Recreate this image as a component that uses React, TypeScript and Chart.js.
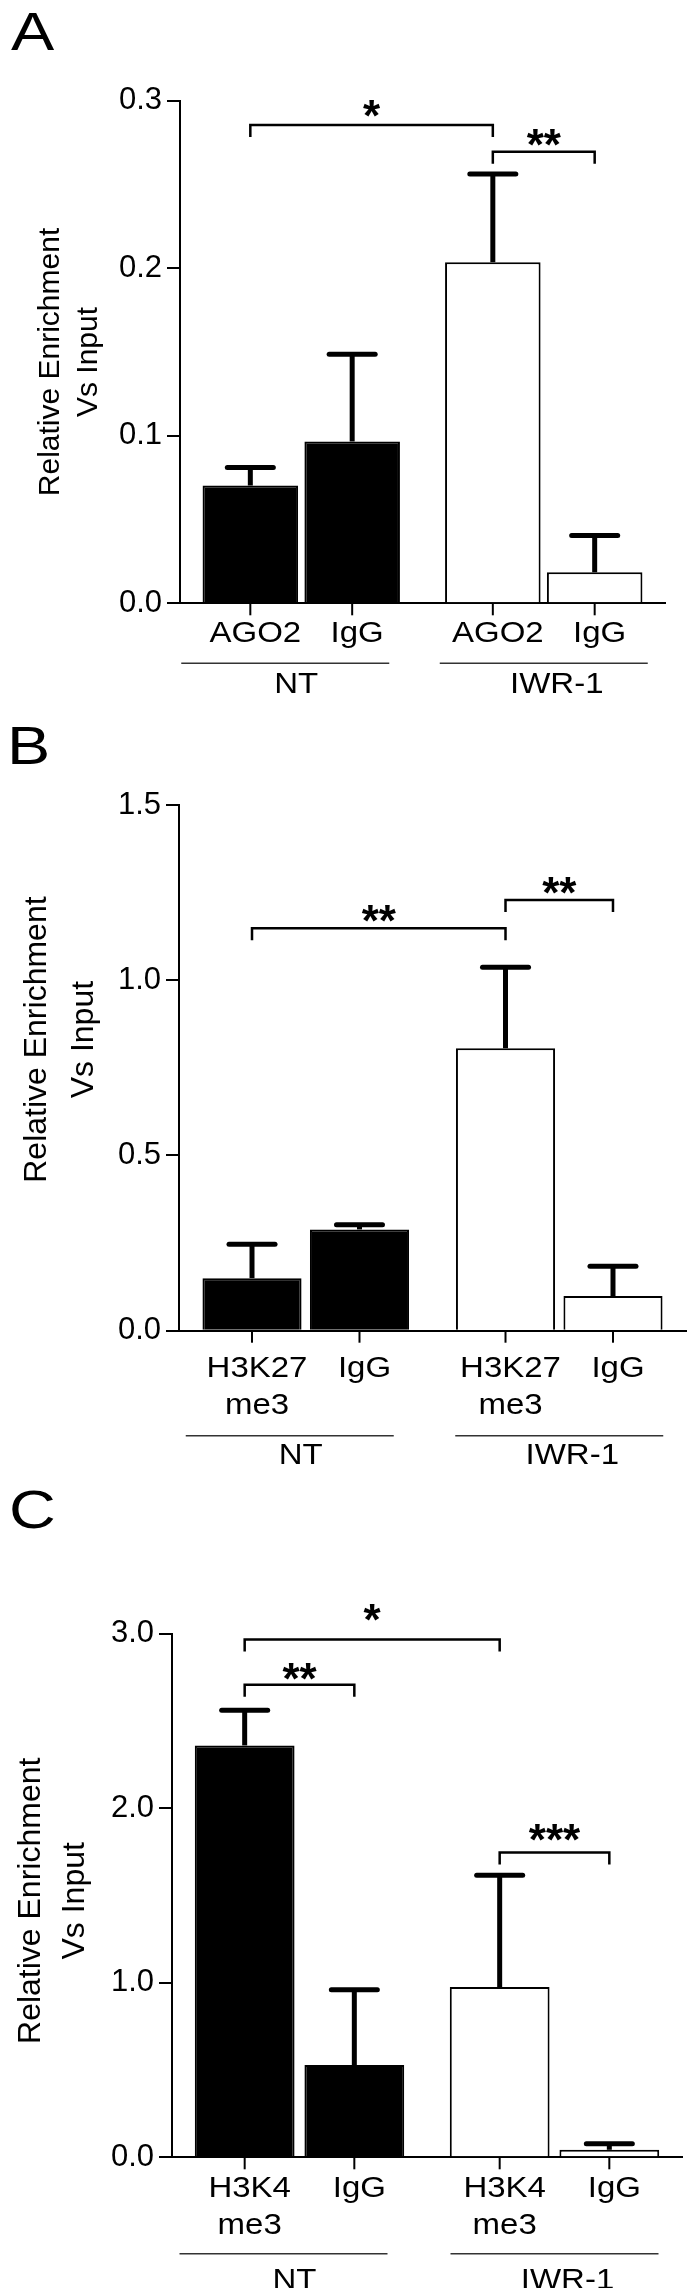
import React, { useEffect, useRef } from 'react';
import { Chart, registerables } from 'chart.js';

Chart.register(...registerables);

const FONT = '"Liberation Sans", Arial, Helvetica, sans-serif';

const GROUPS = ['NT', 'IWR-1'];
const Y_TITLE = ['Relative Enrichment', 'Vs Input'];

// Panel A – AGO2 ChIP
const A_LABELS = [['AGO2'], ['IgG']];
const A_TARGET = [0.0703, 0.2036];
const A_TARGET_ERR = [0.0107, 0.0527];
const A_IGG = [0.0966, 0.0185];
const A_IGG_ERR = [0.0521, 0.022];
const A_TICKS = [0, 0.1, 0.2, 0.3];
const A_BRACKETS = [
  { from: 0, to: 2, y: 0.2855, text: '*', lift: 16 },
  { from: 2, to: 3, y: 0.2696, text: '**', lift: 14 },
];

// Panel B – H3K27me3 ChIP
const B_LABELS = [['H3K27', 'me3'], ['IgG']];
const B_TARGET = [0.15, 0.806];
const B_TARGET_ERR = [0.097, 0.231];
const B_IGG = [0.289, 0.099];
const B_IGG_ERR = [0.013, 0.085];
const B_TICKS = [0, 0.5, 1.0, 1.5];
const B_BRACKETS = [
  { from: 0, to: 2, y: 1.148, text: '**', lift: 15 },
  { from: 2, to: 3, y: 1.229, text: '**', lift: 14 },
];

// Panel C – H3K4me3 ChIP
const C_LABELS = [['H3K4', 'me3'], ['IgG']];
const C_TARGET = [2.359, 0.975];
const C_TARGET_ERR = [0.202, 0.64];
const C_IGG = [0.528, 0.043];
const C_IGG_ERR = [0.432, 0.035];
const C_TICKS = [0, 1, 2, 3];
const C_BRACKETS = [
  { from: 0, to: 2, y: 2.965, text: '*', lift: 27 },
  { from: 0, to: 1, y: 2.706, text: '**', lift: 13 },
  { from: 2, to: 3, y: 1.745, text: '***', lift: 20 },
];

type Bracket = { from: number; to: number; y: number; text: string; lift: number };
type PanelCfg = {
  letter: string;
  labels: string[][];
  target: number[];
  targetErr: number[];
  igg: number[];
  iggErr: number[];
  ticks: number[];
  brackets: Bracket[];
  top: number;
  height: number;
  area: { left: number; right: number; top: number; bottom: number };
  catPct: number;
  barPct: number;
  titleX: number[];
  titleY: number;
  titleSize: number;
  labelY: number;
  lineY: number;
  groupY: number;
  letterPos: number[];
};

const PANELS: PanelCfg[] = [
  {
    letter: 'A', labels: A_LABELS, target: A_TARGET, targetErr: A_TARGET_ERR, igg: A_IGG, iggErr: A_IGG_ERR,
    ticks: A_TICKS, brackets: A_BRACKETS,
    top: 0, height: 740, area: { left: 180, right: 665, top: 100.7, bottom: 603.3 },
    catPct: 0.84, barPct: 0.938, titleX: [59, 97], titleY: 362, titleSize: 30,
    labelY: 30, lineY: 60, groupY: 81, letterPos: [11, 4],
  },
  {
    letter: 'B', labels: B_LABELS, target: B_TARGET, targetErr: B_TARGET_ERR, igg: B_IGG, iggErr: B_IGG_ERR,
    ticks: B_TICKS, brackets: B_BRACKETS,
    top: 740, height: 740, area: { left: 179, right: 686, top: 65, bottom: 590.7 },
    catPct: 0.848, barPct: 0.922, titleX: [46, 93], titleY: 299.6, titleSize: 32,
    labelY: 38, lineY: 105, groupY: 125, letterPos: [7, 718],
  },
  {
    letter: 'C', labels: C_LABELS, target: C_TARGET, targetErr: C_TARGET_ERR, igg: C_IGG, iggErr: C_IGG_ERR,
    ticks: C_TICKS, brackets: C_BRACKETS,
    top: 1480, height: 808, area: { left: 172, right: 682, top: 153.5, bottom: 677.3 },
    catPct: 0.86, barPct: 0.91, titleX: [40, 84], titleY: 420.8, titleSize: 32,
    labelY: 31, lineY: 96.5, groupY: 123, letterPos: [9, 1482],
  },
];

const W = 689;
const TEXT_STRETCH = 1.1;

function stretchedText(ctx: CanvasRenderingContext2D, t: string, x: number, y: number) {
  ctx.save();
  ctx.translate(x, y);
  ctx.scale(TEXT_STRETCH, 1);
  ctx.fillText(t, 0, 0);
  ctx.restore();
}

function makePlugin(cfg: PanelCfg) {
  return {
    id: 'annot' + cfg.letter,
    afterDatasetsDraw(chart: any) {
      const ctx: CanvasRenderingContext2D = chart.ctx;
      const ys = chart.scales.y;
      const bottom = chart.chartArea.bottom;
      const barX = (k: number) => chart.getDatasetMeta(k % 2).data[Math.floor(k / 2)].x;
      ctx.save();
      ctx.strokeStyle = '#000';
      ctx.fillStyle = '#000';

      // error bars (upper only)
      const series: number[][][] = [[cfg.target, cfg.targetErr], [cfg.igg, cfg.iggErr]];
      series.forEach(([m, e], di) => {
        const meta = chart.getDatasetMeta(di);
        meta.data.forEach((bar: any, i: number) => {
          const x = bar.x;
          const y0 = ys.getPixelForValue(m[i]);
          const y1 = ys.getPixelForValue(m[i] + e[i]);
          ctx.lineWidth = 5;
          ctx.lineCap = 'butt';
          ctx.beginPath();
          ctx.moveTo(x, y0);
          ctx.lineTo(x, y1);
          ctx.stroke();
          ctx.lineCap = 'round';
          ctx.beginPath();
          ctx.moveTo(x - 23, y1);
          ctx.lineTo(x + 23, y1);
          ctx.stroke();
        });
      });

      // x tick marks and bar labels
      ctx.lineCap = 'butt';
      ctx.lineWidth = 2;
      ctx.font = `30px ${FONT}`;
      ctx.textAlign = 'center';
      ctx.textBaseline = 'middle';
      for (let k = 0; k < 4; k++) {
        const x = barX(k);
        ctx.beginPath();
        ctx.moveTo(x, bottom);
        ctx.lineTo(x, bottom + 12);
        ctx.stroke();
        const lines = cfg.labels[k % 2];
        lines.forEach((t, j) => stretchedText(ctx, t, x + 5, bottom + cfg.labelY + j * 37));
      }

      // group lines and group labels
      GROUPS.forEach((g, gi) => {
        const cx = (barX(2 * gi) + barX(2 * gi + 1)) / 2;
        const shift = gi === 0 ? -16 : 0;
        ctx.strokeStyle = '#333';
        ctx.lineWidth = 1.5;
        ctx.beginPath();
        ctx.moveTo(cx + shift - 104, bottom + cfg.lineY);
        ctx.lineTo(cx + shift + 104, bottom + cfg.lineY);
        ctx.stroke();
        stretchedText(ctx, g, cx + (gi === 0 ? -5 : 13), bottom + cfg.groupY);
      });

      // significance brackets
      ctx.strokeStyle = '#000';
      ctx.lineWidth = 2.5;
      ctx.lineJoin = 'miter';
      cfg.brackets.forEach((b) => {
        const x1 = barX(b.from);
        const x2 = barX(b.to);
        const yy = ys.getPixelForValue(b.y);
        ctx.beginPath();
        ctx.moveTo(x1, yy + 12);
        ctx.lineTo(x1, yy);
        ctx.lineTo(x2, yy);
        ctx.lineTo(x2, yy + 12);
        ctx.stroke();
        ctx.font = `bold 44px ${FONT}`;
        ctx.textBaseline = 'alphabetic';
        const mt = ctx.measureText(b.text);
        const centerY = yy - b.lift;
        const base = centerY + (mt.actualBoundingBoxAscent - mt.actualBoundingBoxDescent) / 2;
        ctx.fillText(b.text, (x1 + x2) / 2, base);
      });

      // rotated y-axis title
      ctx.font = `${cfg.titleSize}px ${FONT}`;
      ctx.textBaseline = 'alphabetic';
      ctx.textAlign = 'center';
      Y_TITLE.forEach((t, i) => {
        ctx.save();
        ctx.translate(cfg.titleX[i], cfg.titleY);
        ctx.rotate(-Math.PI / 2);
        ctx.fillText(t, 0, 0);
        ctx.restore();
      });
      ctx.restore();
    },
  };
}

function Panel({ cfg }: { cfg: PanelCfg }) {
  const ref = useRef<HTMLCanvasElement>(null);
  useEffect(() => {
    const a = cfg.area;
    const chart = new Chart(ref.current as HTMLCanvasElement, {
      type: 'bar',
      data: {
        labels: GROUPS,
        datasets: [
          {
            label: cfg.labels[0].join(''),
            data: cfg.target,
            backgroundColor: ['#000000', '#ffffff'],
            borderColor: '#000000',
            borderWidth: 2,
            categoryPercentage: cfg.catPct,
            barPercentage: cfg.barPct,
          },
          {
            label: cfg.labels[1].join(''),
            data: cfg.igg,
            backgroundColor: ['#000000', '#ffffff'],
            borderColor: '#000000',
            borderWidth: 2,
            categoryPercentage: cfg.catPct,
            barPercentage: cfg.barPct,
          },
        ],
      },
      options: {
        animation: false,
        responsive: false,
        maintainAspectRatio: false,
        layout: { padding: { left: 0, top: a.top, right: W - a.right, bottom: cfg.height - a.bottom } },
        plugins: { legend: { display: false }, tooltip: { enabled: false }, title: { display: false } },
        scales: {
          x: {
            type: 'category',
            z: 1,
            grid: { display: false, drawTicks: false },
            border: { display: true, color: '#000', width: 2 },
            ticks: { display: false },
            afterFit: (s: any) => { s.height = 0; },
          },
          y: {
            min: 0,
            max: cfg.ticks[cfg.ticks.length - 1],
            afterFit: (s: any) => { s.width = a.left; },
            afterBuildTicks: (s: any) => { s.ticks = cfg.ticks.map((v) => ({ value: v })); },
            grid: { drawOnChartArea: false, drawTicks: true, tickLength: 13, color: '#000', lineWidth: 2 },
            border: { display: true, color: '#000', width: 2 },
            ticks: {
              color: '#000',
              padding: 5,
              font: { family: FONT, size: 31 },
              callback: (v: any) => Number(v).toFixed(1),
            },
          },
        },
      },
      plugins: [makePlugin(cfg)],
    } as any);
    return () => chart.destroy();
  }, [cfg]);
  return (
    <canvas
      ref={ref}
      width={W}
      height={cfg.height}
      style={{ position: 'absolute', left: 0, top: cfg.top, display: 'block', width: W, height: cfg.height }}
    />
  );
}

export default function App() {
  return (
    <div style={{ position: 'absolute', left: 0, top: 0, width: W, height: 2288, background: '#fff', overflow: 'hidden' }}>
      {PANELS.map((p) => (
        <Panel key={p.letter} cfg={p} />
      ))}
      {PANELS.map((p) => (
        <div
          key={'L' + p.letter}
          style={{
            position: 'absolute',
            left: p.letterPos[0],
            top: p.letterPos[1],
            fontFamily: FONT,
            fontSize: 54,
            lineHeight: '54px',
            color: '#000',
            transform: 'scaleX(1.2)',
            transformOrigin: 'left top',
          }}
        >
          {p.letter}
        </div>
      ))}
    </div>
  );
}
